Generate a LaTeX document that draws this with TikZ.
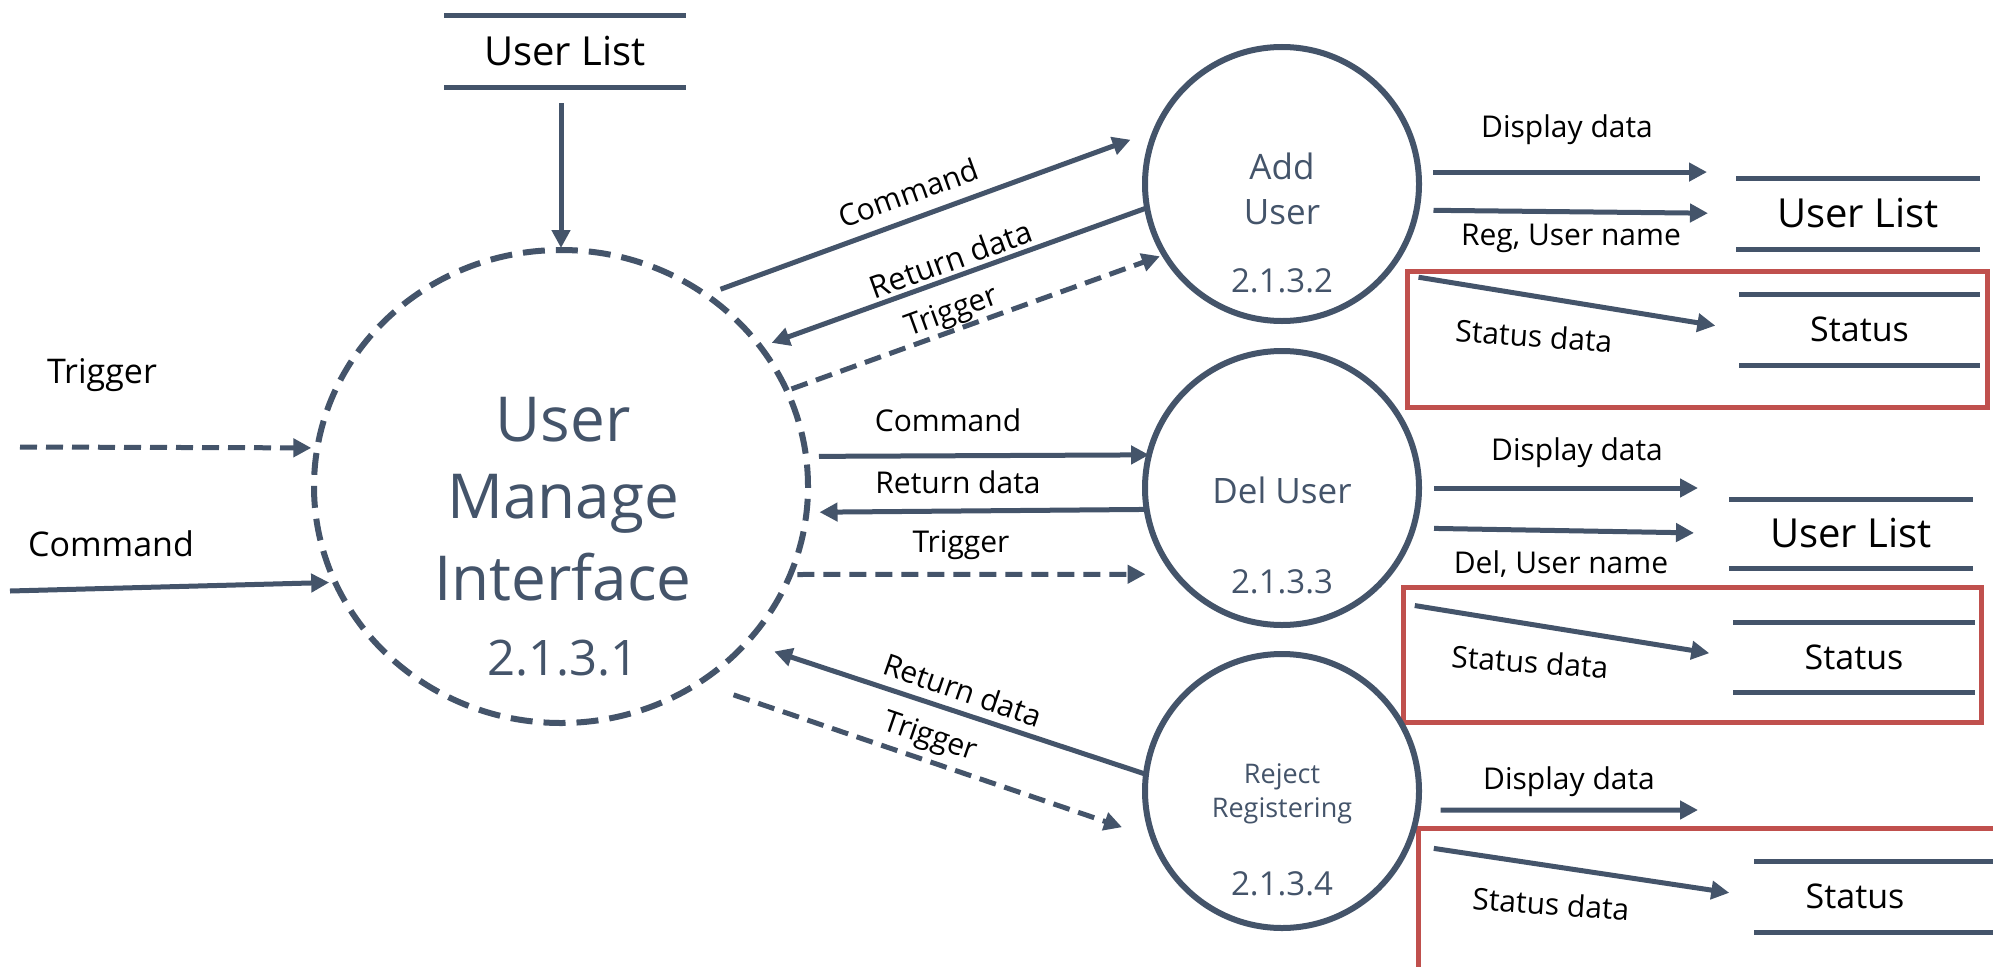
\documentclass[tikz,border=0pt]{standalone}
\usepackage{fontspec}
\setmainfont{Open Sans}
\usetikzlibrary{arrows.meta,shapes.geometric}
\definecolor{slate}{HTML}{44546A}
\definecolor{boxred}{HTML}{C0504D}
\begin{document}
\begin{tikzpicture}[x=1pt,y=-1pt,
  flow/.style={draw=slate, line width=5pt, -{Triangle[length=18pt,width=18pt]}},
  dflow/.style={flow, dash pattern=on 17pt off 9pt},
  proc/.style={circle, draw=slate, line width=6pt, inner sep=0pt, outer sep=0pt, minimum size=274pt},
  ptxt/.style={text=slate, inner sep=0pt, anchor=base},
  lab/.style={text=black, inner sep=0pt, font=\fontsize{30}{36}\selectfont},
  biglab/.style={text=black, inner sep=0pt, font=\fontsize{34}{40}\selectfont},
  store/.style={inner sep=0pt, outer sep=0pt, minimum height=71pt, text=black},
  storeline/.style={draw=slate, line width=5pt},
  redbox/.style={draw=boxred, line width=5pt, inner sep=0pt, outer sep=0pt},
  ]
\path[use as bounding box, clip] (0,0) rectangle (1993,966);
\fill[white] (0,0) rectangle (1993,966);

% highlight boxes
\node[redbox, minimum width=580pt, minimum height=136pt] (rb1) at (1697,339) {};
\node[redbox, minimum width=578pt, minimum height=135pt] (rb2) at (1692,654.5) {};
\node[redbox, minimum width=620pt, minimum height=170pt, anchor=north west] (rb3) at (1418,828) {};

% data stores
\node[store, minimum width=242pt, font=\fontsize{40}{48}\selectfont] (ul1) at (565,51.5) {User List};
\node[store, minimum width=244pt, font=\fontsize{40}{48}\selectfont] (ul2) at (1858,213.5) {User List};
\node[store, minimum width=241pt, font=\fontsize{34}{40}\selectfont] (st1) at (1859.5,329.5) {Status};
\node[store, minimum width=244pt, minimum height=69pt, font=\fontsize{40}{48}\selectfont] (ul3) at (1851,533.5) {User List};
\node[store, minimum width=242pt, minimum height=70pt, font=\fontsize{34}{40}\selectfont] (st2) at (1854,657) {Status};
\node[store, minimum width=202pt, font=\fontsize{34}{40}\selectfont] (st3) at (1855,896.5) {Status};
\foreach \s in {ul1,ul2,ul3,st1,st2}{
  \draw[storeline] (\s.north west) -- (\s.north east) (\s.south west) -- (\s.south east);
}
\draw[storeline] (st3.north west) -- ++(260,0) (st3.south west) -- ++(260,0);

% processes
\node[ellipse, draw=slate, line width=6pt, dash pattern=on 22pt off 11pt,
      minimum width=494pt, minimum height=473pt, inner sep=0pt, outer sep=0pt] (main) at (561,486.5) {};
\node[proc] (add) at (1282,184) {};
\node[proc] (del) at (1282,488) {};
\node[proc] (rej) at (1282,791) {};

% process texts
\node[ptxt, font=\fontsize{62}{74}\selectfont] (m1) at (563,441) {User};
\node[ptxt, font=\fontsize{62}{74}\selectfont] (m2) at (563,518) {Manage};
\node[ptxt, font=\fontsize{62}{74}\selectfont] (m3) at (563,600) {Interface};
\node[ptxt, font=\fontsize{49}{58}\selectfont] (m4) at (563,675) {2.1.3.1};
\node[ptxt, font=\fontsize{35}{42}\selectfont] (a1) at (1282,179) {Add};
\node[ptxt, font=\fontsize{35}{42}\selectfont] (a2) at (1282,224) {User};
\node[ptxt, font=\fontsize{33}{40}\selectfont] (a3) at (1282,292) {2.1.3.2};
\node[ptxt, font=\fontsize{35}{42}\selectfont] (d1) at (1282,503) {Del User};
\node[ptxt, font=\fontsize{33}{40}\selectfont] (d2) at (1282,593) {2.1.3.3};
\node[ptxt, font=\fontsize{27}{32}\selectfont] (r1) at (1282,783) {Reject};
\node[ptxt, font=\fontsize{27}{32}\selectfont] (r2) at (1282,817) {Registering};
\node[ptxt, font=\fontsize{33}{40}\selectfont] (r3) at (1282,895) {2.1.3.4};

% labels
\node[biglab, anchor=base] (lt1) at (102,383) {Trigger};
\node[biglab, anchor=base] (lc1) at (111,556) {Command};
\node[lab, rotate=20] (la1) at (908,193) {Command};
\node[lab, rotate=20, font=\fontsize{31}{36}\selectfont] (la2) at (951,259) {Return data};
\node[lab, rotate=20] (la3) at (952,313) {Trigger};
\node[lab, anchor=base] (ld1) at (948,431) {Command};
\node[lab, anchor=base] (ld2) at (958,493) {Return data};
\node[lab, anchor=base] (ld3) at (961,552) {Trigger};
\node[lab, rotate=-19] (lr1) at (963,690) {Return data};
\node[lab, rotate=-19] (lr2) at (930,738) {Trigger};
\node[lab, anchor=base] (lad) at (1567,137) {Display data};
\node[lab, anchor=base] (lar) at (1571,245) {Reg, User name};
\node[lab, rotate=-4] (las) at (1534,336) {Status data};
\node[lab, anchor=base] (ldd) at (1577,460) {Display data};
\node[lab, anchor=base] (ldn) at (1561,573) {Del, User name};
\node[lab, rotate=-4] (lds) at (1530,662) {Status data};
\node[lab, anchor=base] (lrd) at (1569,789) {Display data};
\node[lab, rotate=-4] (lrs) at (1551,904) {Status data};

% free ends
\coordinate (lt) at (20,447);
\coordinate (lc) at (10,591);
\coordinate (d3) at (1698,810);

% connectors
\draw[flow, shorten <=16pt, shorten >=2pt] (ul1.south -| main.north) -- (main.north);
\draw[dflow, shorten >=6pt] (lt) -- (main.171);
\draw[flow, shorten >=6pt] (lc) -- (main.203);
\draw[flow, shorten <=16pt, shorten >=27pt] (main.53) -- (add.157);
\draw[flow, shorten >=12pt] (add.190) -- (main.35);
\draw[dflow, shorten <=5pt, shorten >=5pt] (main.23) -- (add.211);
\draw[flow, shorten <=13pt] (main.7) -- (del.166);
\draw[flow, shorten >=13pt] (del.189) -- (main.354);
\draw[dflow, shorten <=7pt, shorten >=30pt] (main.339) -- (del.219);
\draw[flow, shorten >=29pt] (rej.173) -- (main.320);
\draw[dflow, shorten <=37pt, shorten >=33pt] (main.305) -- (rej.200);

\draw[flow, shorten <=15pt, shorten >=29pt] (add.5) -- (add.5 -| ul2.west);
\draw[flow, shorten <=17pt, shorten >=28pt] (add.349) -- (ul2.west);
\draw[flow, shorten <=32pt, shorten >=24pt] (add.320) -- (st1.west);
\draw[flow, shorten <=15pt, shorten >=31pt] (del.0) -- (del.0 -| ul3.west);
\draw[flow, shorten <=21pt, shorten >=35pt] (del.343) -- (ul3.west);
\draw[flow, shorten <=51pt, shorten >=24pt] (del.307) -- (st2.west);
\draw[flow, shorten <=23pt] (rej.352) -- (d3);
\draw[flow, shorten <=26pt, shorten >=25pt] (rej.337) -- (st3.west);
\end{tikzpicture}
\end{document}
